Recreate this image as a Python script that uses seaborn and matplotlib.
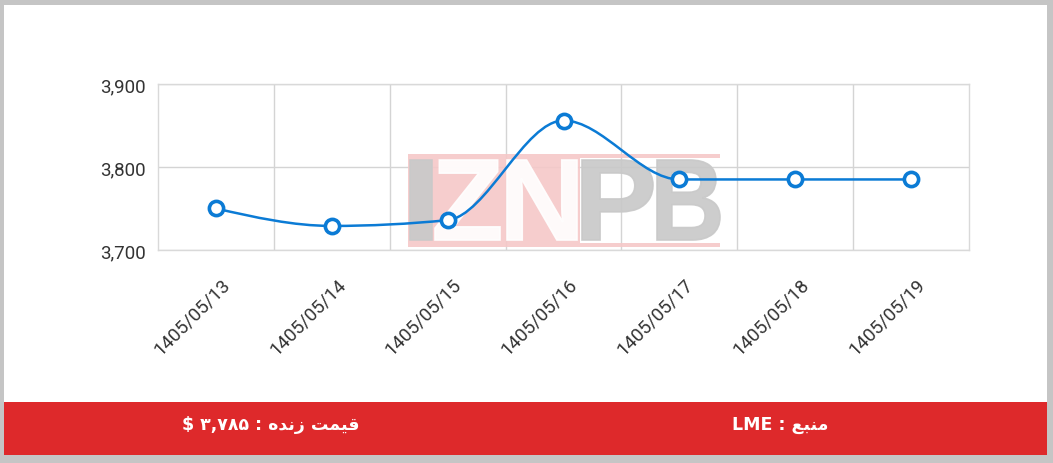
import numpy as np
import matplotlib
matplotlib.use("Agg")
import matplotlib.pyplot as plt
import seaborn as sns
from matplotlib.path import Path
from matplotlib.patches import PathPatch, Rectangle
from matplotlib.textpath import TextPath
from matplotlib.font_manager import FontProperties
from matplotlib.transforms import Affine2D, ScaledTranslation

# chart values
dates = ['1405/05/13', '1405/05/14', '1405/05/15', '1405/05/16',
         '1405/05/17', '1405/05/18', '1405/05/19']
prices = [3750, 3729, 3736, 3856, 3785, 3785, 3785]
y_ticks = [3700, 3800, 3900]
live_price = '\u06F3,\u06F7\u06F8\u06F5'          # ۳,۷۸۵
source_name = 'LME'

# Persian labels, shaped (presentation forms) in visual order
word_price = '\uFE96\uFEE4\uFEF4\uFED7'   # قیمت
word_live = '\uFEE9\uFEAA\uFEE7\uFEAF'    # زنده
word_source = '\uFECA\uFE92\uFEE8\uFEE3'  # منبع
live_text = '$ ' + live_price + ' : ' + word_live + ' ' + word_price
source_text = source_name + ' : ' + word_source

W, H = 1053, 464
BLUE = '#0b7bd5'
RED = '#de292b'

sns.set_theme(style='white')
plt.rcParams['font.family'] = ['Roboto', 'DejaVu Sans']


def monotone_tangents(xs, ys):
    # d3 curveMonotoneX style slopes
    n = len(xs)
    s = [(ys[i + 1] - ys[i]) / (xs[i + 1] - xs[i]) for i in range(n - 1)]
    t = [0.0] * n
    for i in range(1, n - 1):
        p = (s[i - 1] + s[i]) / 2
        t[i] = (np.sign(s[i - 1]) + np.sign(s[i])) * min(abs(s[i - 1]), abs(s[i]), 0.5 * abs(p))
    t[0] = (3 * s[0] - t[1]) / 2
    t[-1] = (3 * s[-1] - t[-2]) / 2
    return t


def px_to_fig():
    # pixel coords (origin top-left) -> figure fraction
    return Affine2D().scale(1 / W, -1 / H).translate(0, 1) + fig.transFigure


fig = plt.figure(figsize=(W / 100, H / 100), dpi=100, facecolor='#c5c5c5')
# white card and red footer
fig.patches.append(Rectangle((4, 6), 1043, 450, transform=px_to_fig(),
                             facecolor='white', edgecolor='none', zorder=-2))
fig.patches.append(Rectangle((4, 403), 1043, 53, transform=px_to_fig(),
                             facecolor=RED, edgecolor='none', zorder=-1))

ax = fig.add_axes([158 / W, 1 - 251 / H, (969 - 158) / W, (251 - 85) / H])
ax.set_facecolor('none')

xs = np.arange(len(dates))
sns.scatterplot(x=dates, y=prices, ax=ax, marker='o', s=105, color='white',
                edgecolor=BLUE, linewidth=2.6, zorder=4, legend=False)

# smooth monotone line through the points
tg = monotone_tangents(list(xs), prices)
verts = [(xs[0], prices[0])]
codes = [Path.MOVETO]
for i in range(len(xs) - 1):
    dx = (xs[i + 1] - xs[i]) / 3
    verts += [(xs[i] + dx, prices[i] + dx * tg[i]),
              (xs[i + 1] - dx, prices[i + 1] - dx * tg[i + 1]),
              (xs[i + 1], prices[i + 1])]
    codes += [Path.CURVE4] * 3
ax.add_patch(PathPatch(Path(verts, codes), facecolor='none', edgecolor=BLUE,
                       linewidth=1.8, zorder=3))

ax.set_xlim(-0.5, len(dates) - 0.5)
ax.set_ylim(3700, 3900)
ax.set_yticks(y_ticks)
ax.set_yticklabels([f'{v:,}' for v in y_ticks])
ax.set_xticks(xs)
ax.set_xticklabels(dates)
ax.set_xticks(np.arange(0.5, len(dates) - 1, 1), minor=True)
ax.set_xlabel('')
ax.set_ylabel('')
ax.set_axisbelow(True)
ax.grid(which='minor', axis='x', color='#d4d4d4', linewidth=1)
ax.grid(which='major', axis='y', color='#d4d4d4', linewidth=1)
ax.grid(which='major', axis='x', visible=False)
for sp in ax.spines.values():
    sp.set_color('#d9d9d9')
    sp.set_linewidth(1)
ax.tick_params(axis='both', which='both', length=0)
ax.tick_params(axis='y', labelsize=13.5, labelcolor='#333333', pad=9)
ax.tick_params(axis='x', labelsize=13.5, labelcolor='#333333', pad=22)
for lab in ax.get_xticklabels():
    lab.set_rotation(45)
    lab.set_ha('right')
    lab.set_va('center')
    lab.set_rotation_mode('anchor')
    lab.set_transform(lab.get_transform() + ScaledTranslation(11 / 100, 0, fig.dpi_scale_trans))

# IZNPB watermark
PINK = '#f5c8c8'
for (x0, y0, w, h) in [(408, 155, 172, 93), (580, 155, 140, 4), (580, 244, 140, 4)]:
    ax.add_patch(Rectangle((x0, y0), w, h, transform=px_to_fig(),
                           facecolor=PINK, alpha=0.9, edgecolor='none', zorder=1))
wm_font = FontProperties(family='Liberation Sans', weight='bold')
letters = [('I', 410, 432, '#c9c9c9'), ('Z', 435, 500, 'white'),
           ('N', 507, 577, 'white'), ('P', 582, 653, '#c9c9c9'),
           ('B', 657, 720, '#c9c9c9')]
for ch, x0, x1, col in letters:
    tp = TextPath((0, 0), ch, size=100, prop=wm_font)
    ext = tp.get_extents()
    sx = (x1 - x0) / ext.width
    sy = (241 - 161) / ext.height
    tr = Affine2D().translate(-ext.x0, -ext.y1).scale(sx, -sy).translate(x0, 161)
    ax.add_patch(PathPatch(tr.transform_path(tp), transform=px_to_fig(),
                           facecolor=col, edgecolor=col, linewidth=1.2,
                           alpha=0.92, zorder=1.5))

# footer texts
fig.text(271 / W, 1 - 425 / H, live_text, color='white', fontsize=12.5, weight='bold',
         family=['DejaVu Sans'], ha='center', va='center')
fig.text(780 / W, 1 - 425 / H, source_text, color='white', fontsize=12.5, weight='bold',
         family=['DejaVu Sans'], ha='center', va='center')

fig.savefig('out.png', dpi=100, facecolor=fig.get_facecolor())
